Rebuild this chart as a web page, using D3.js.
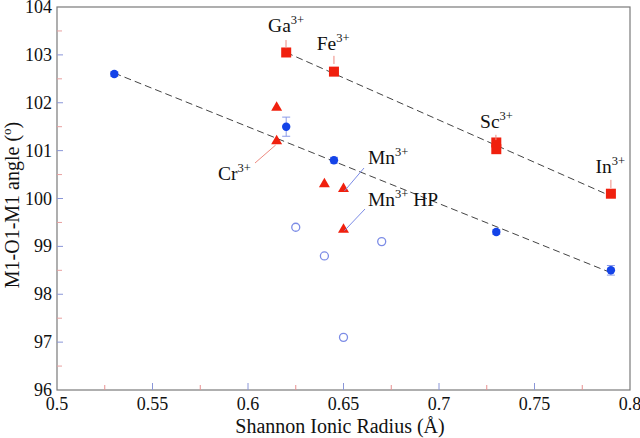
<!DOCTYPE html>
<html><head><meta charset="utf-8">
<script src="https://cdn.jsdelivr.net/npm/d3@7"></script>
<style>body{margin:0;background:#fff}svg{display:block}</style>
</head><body><svg id="c" width="640" height="438" font-family="Liberation Serif, DejaVu Serif, Times New Roman, serif"></svg>
<script>
const xTicks = [0.5,0.55,0.6,0.65,0.7,0.75,0.8];
const yTicks = [96,97,98,99,100,101,102,103,104];
// filled blue circles [radius, angle, err]
const blueFilled = [[0.53,102.6,0.05],[0.62,101.5,0.2],[0.645,100.8,0.06],[0.73,99.3,0.05],[0.79,98.5,0.1]];
const blueOpen = [[0.625,99.4],[0.64,98.8],[0.65,97.1],[0.67,99.1]];
const redTri = [[0.615,101.9],[0.615,101.2],[0.64,100.3],[0.65,100.2],[0.65,99.35]];
const redSq = [[0.62,103.05,0.03],[0.645,102.65,0.03],[0.73,101.17,0.05],[0.73,101.03,0.05],[0.79,100.1,0.05]];
const fitLower = [[0.53,102.62],[0.79,98.45]];
const fitUpper = [[0.62,103.05],[0.79,100.05]];
// labels: [name, textX, textY, leaderX, leaderY1, leaderY2] (data coords)
const labels = [["Ga",0.6105,103.48,0.6199,103.31,103.14],
                ["Fe",0.636,103.10,0.645,102.98,102.81],
                ["Sc",0.7215,101.47,0.7298,101.33,101.22],
                ["In",0.782,100.53,0.79,100.39,100.22]];

const svg = d3.select("#c");
const x = d3.scaleLinear().domain([0.5,0.8]).range([57,630]);
const y = d3.scaleLinear().domain([96,104]).range([390,7]);

// frame
svg.append("rect").attr("x",57).attr("y",7).attr("width",573).attr("height",383)
  .attr("fill","none").attr("stroke","#7a7a7a").attr("stroke-width",1.2);

// ticks
const g = svg.append("g");
const xMinor = d3.range(0.525,0.8,0.05);
xTicks.slice(1,-1).forEach(v=>g.append("line").attr("x1",x(v)).attr("x2",x(v)).attr("y1",390).attr("y2",383).attr("stroke","#8a96d8"));
xMinor.forEach(v=>g.append("line").attr("x1",x(v)).attr("x2",x(v)).attr("y1",390).attr("y2",385).attr("stroke","#e89090"));
yTicks.slice(1,-1).forEach(v=>g.append("line").attr("x1",57).attr("x2",63).attr("y1",y(v)).attr("y2",y(v)).attr("stroke","#8a96d8"));
d3.range(96.5,104,1).forEach(v=>g.append("line").attr("x1",57).attr("x2",62).attr("y1",y(v)).attr("y2",y(v)).attr("stroke","#e8a0a0"));

// tick labels
xTicks.forEach(v=>svg.append("text").attr("x",x(v)).attr("y",410).attr("text-anchor","middle")
  .attr("font-size",18).attr("fill","#111").text(v));
yTicks.forEach(v=>svg.append("text").attr("x",52).attr("y",y(v)+6).attr("text-anchor","end")
  .attr("font-size",18).attr("fill","#111").text(v));

// axis titles
svg.append("text").attr("x",340).attr("y",433).attr("text-anchor","middle").attr("font-size",20)
  .attr("fill","#111").text("Shannon Ionic Radius (Å)");
const yt = svg.append("text").attr("transform","translate(19,205) rotate(-90)").attr("text-anchor","middle")
  .attr("font-size",20).attr("fill","#111");
yt.append("tspan").text("M1-O1-M1 angle (");
yt.append("tspan").attr("font-size",13).attr("dy",-8).text("o");
yt.append("tspan").attr("dy",8).text(")");

// fit lines
const line = d3.line().x(d=>x(d[0])).y(d=>y(d[1]));
[fitLower,fitUpper].forEach(f=>svg.append("path").attr("d",line(f)).attr("fill","none")
  .attr("stroke","#444").attr("stroke-width",1).attr("stroke-dasharray","7,4"));

// error bars
function ebar(d,col){
  const e=d[2]; if(!e) return;
  svg.append("line").attr("x1",x(d[0])).attr("x2",x(d[0])).attr("y1",y(d[1]-e)).attr("y2",y(d[1]+e)).attr("stroke",col);
  [d[1]-e,d[1]+e].forEach(v=>svg.append("line").attr("x1",x(d[0])-4).attr("x2",x(d[0])+4).attr("y1",y(v)).attr("y2",y(v)).attr("stroke",col));
}
blueFilled.forEach(d=>ebar(d,"#8a9ae8"));
redSq.forEach(d=>ebar(d,"#f0a0a0"));

// markers
svg.selectAll(".bf").data(blueFilled).join("circle").attr("cx",d=>x(d[0])).attr("cy",d=>y(d[1])).attr("r",4.2).attr("fill","#1443e8");
svg.selectAll(".bo").data(blueOpen).join("circle").attr("cx",d=>x(d[0])).attr("cy",d=>y(d[1])).attr("r",4).attr("fill","none").attr("stroke","#7c8ce6").attr("stroke-width",1.3);
const tri = d3.symbol().type(d3.symbolTriangle).size(52);
svg.selectAll(".rt").data(redTri).join("path").attr("d",tri).attr("transform",d=>`translate(${x(d[0])},${y(d[1])})`).attr("fill","#f0200e");
svg.selectAll(".rs").data(redSq).join("rect").attr("x",d=>x(d[0])-5).attr("y",d=>y(d[1])-5).attr("width",10).attr("height",10).attr("fill","#f0200e");

// annotations
function lab(t,px,py){
  const tx=svg.append("text").attr("x",px).attr("y",py).attr("font-size",19.5).attr("fill","#111");
  tx.append("tspan").text(t);
  tx.append("tspan").attr("font-size",12.5).attr("dy",-8).text("3+");
  return tx;
}
labels.forEach(l=>{
  lab(l[0],x(l[1]),y(l[2]));
  svg.append("line").attr("x1",x(l[3])).attr("x2",x(l[3])).attr("y1",y(l[4])).attr("y2",y(l[5])).attr("stroke","#ee8a80");
});
lab("Cr",218,180);
svg.append("line").attr("x1",255).attr("y1",163).attr("x2",x(0.615)-1).attr("y2",y(101.2)+4).attr("stroke","#ee8a80");
lab("Mn",368,164);
svg.append("line").attr("x1",364).attr("y1",168).attr("x2",x(0.65)+1).attr("y2",y(100.2)+2).attr("stroke","#7c8ce6");
const hp=lab("Mn",368,206); hp.append("tspan").attr("dy",8).text(" HP");
svg.append("line").attr("x1",365).attr("y1",209).attr("x2",x(0.65)+1).attr("y2",y(99.35)+1).attr("stroke","#7c8ce6");
</script></body></html>
